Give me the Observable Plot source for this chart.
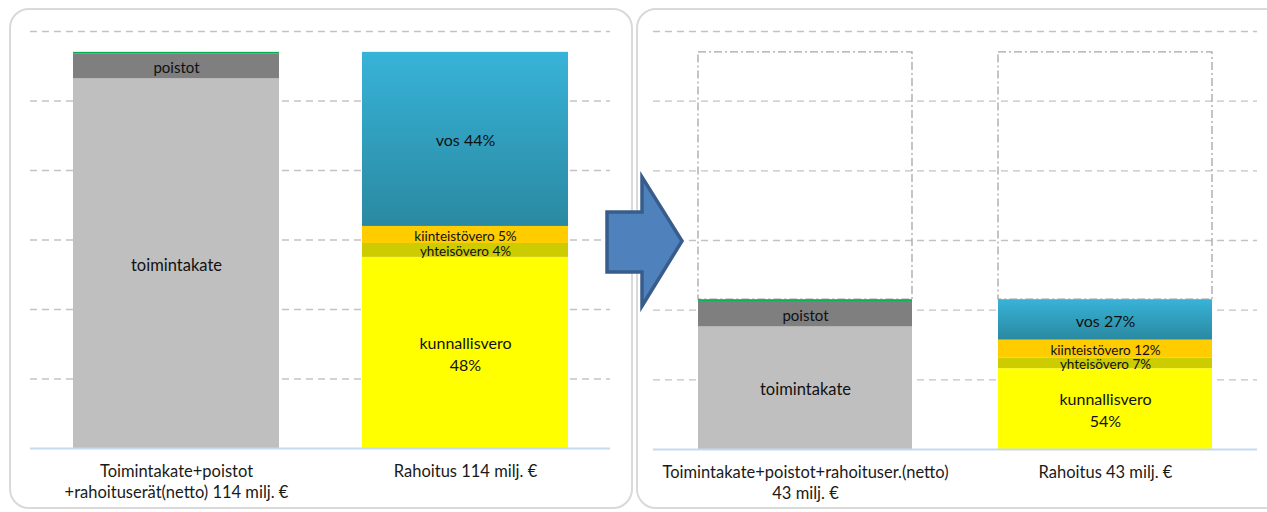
<!DOCTYPE html>
<html>
<head>
<meta charset="utf-8">
<script src="https://cdn.jsdelivr.net/npm/d3@7"></script>
<script src="https://cdn.jsdelivr.net/npm/@observablehq/plot@0.6"></script>
<style>
  html, body { margin: 0; padding: 0; background: #fff; overflow: hidden; }
  #wrap { position: relative; width: 1267px; height: 512px; overflow: hidden; font-family: Lato, "Liberation Sans", sans-serif; }
  .chart { position: absolute; top: 0; }
  .panel { position: absolute; border: 2.5px solid #d9d9d9; border-radius: 20px; box-sizing: border-box; pointer-events: none; }
  #p1 { left: 9px; top: 8px; width: 624px; height: 501px; }
  #p2 { left: 636px; top: 8px; width: 660px; height: 501px; }
  #arrow { position: absolute; left: 0; top: 0; pointer-events: none; }
</style>
</head>
<body>
<div id="wrap">
  <div id="c1" class="chart" style="left:0px"></div>
  <div id="c2" class="chart" style="left:635px"></div>
  <div id="p1" class="panel"></div>
  <div id="p2" class="panel"></div>
  <svg id="arrow" width="1267" height="512"></svg>
</div>
<script>
// ---- data ----
const leftCategories = ["Toimintakate+poistot\n+rahoituserät(netto) 114 milj. €", "Rahoitus 114 milj. €"];
const rightCategories = ["Toimintakate+poistot+rahoituser.(netto)\n43 milj. €", "Rahoitus 43 milj. €"];
const segments = ["toimintakate", "poistot", "rahoituserät", "kunnallisvero", "yhteisövero", "kiinteistövero", "vos"];
const segmentBar = [0, 0, 0, 1, 1, 1, 1];
const leftValues = [106.4, 7.1, 0.5, 55.0, 4.0, 4.9, 50.1];
const leftLabels = ["toimintakate", "poistot", "", "kunnallisvero\n48%", "yhteisövero 4%", "kiinteistövero 5%", "vos 44%"];
const rightValues = [35.2, 7.3, 0.5, 23.2, 3.0, 5.2, 11.6];
const rightLabels = ["toimintakate", "poistot", "", "kunnallisvero\n54%", "yhteisövero 7%", "kiinteistövero 12%", "vos 27%"];
const previousTotals = [114, 114];
const gridTicks = [20, 40, 60, 80, 100, 120];

// ---- styles ----
const segColors = {
  "toimintakate": "#bfbfbf",
  "poistot": "#7f7f7f",
  "rahoituserät": "#00b050",
  "kunnallisvero": "#ffff00",
  "yhteisövero": "#cccc00",
  "kiinteistövero": "#ffcc00",
  "vos": "GRADIENT"
};
const segFontSize = {
  "toimintakate": 16.5, "poistot": 15, "rahoituserät": 12, "kunnallisvero": 16,
  "yhteisövero": 13.5, "kiinteistövero": 13.5, "vos": 16
};

function makePanel(cfg) {
  const rows = segments.map((s, i) => ({ bar: cfg.cats[segmentBar[i]], seg: s, value: cfg.values[i], label: cfg.labels[i] }));
  const totals = cfg.cats.map((c, b) => d3.sum(segments.map((s, i) => segmentBar[i] === b ? cfg.values[i] : 0)));
  const ghostRows = cfg.ghost ? cfg.cats.map((c, i) => ({ bar: c, from: totals[i], to: previousTotals[i] })) : [];
  const range = segments.map(s => segColors[s] === "GRADIENT" ? `url(#${cfg.gradId})` : segColors[s]);
  const marks = [
    Plot.ruleY(gridTicks, { stroke: "#c3c3c3", strokeWidth: 1.3, strokeDasharray: "7,5" }),
  ];
  if (cfg.ghost) {
    marks.push(Plot.barY(ghostRows, { x: "bar", y1: "from", y2: "to", fill: "none", stroke: "#a6a6a6", strokeWidth: 1.3, strokeDasharray: "8,3,2,3" }));
  }
  marks.push(
    Plot.barY(rows, Plot.stackY({ x: "bar", y: "value", fill: "seg" })),
    Plot.text(rows, Plot.stackY({
      x: "bar", y: "value", text: "label",
      fontSize: d => segFontSize[d.seg], lineHeight: 1.375, fill: "#111"
    })),
    Plot.ruleY([0], { stroke: "#c6d9f1", strokeWidth: 2 }),
    Plot.text(cfg.cats, {
      x: d => d, text: d => d, frameAnchor: "bottom", lineAnchor: "top",
      dy: 14, fontSize: 16.5, lineHeight: 1.27, fill: "#1a1a1a"
    })
  );
  const chart = Plot.plot({
    width: cfg.width, height: 512,
    marginLeft: cfg.mL, marginRight: cfg.mR, marginTop: cfg.mT, marginBottom: cfg.mB,
    style: { background: "transparent", fontFamily: "Lato, 'Liberation Sans', sans-serif", overflow: "visible" },
    x: { domain: cfg.cats, paddingInner: cfg.pi, paddingOuter: cfg.po, axis: null },
    y: { domain: [0, 120], axis: null },
    color: { domain: segments, range },
    marks
  });
  const defs = d3.select(chart).insert("defs", ":first-child");
  const g = defs.append("linearGradient").attr("id", cfg.gradId).attr("x1", 0).attr("y1", 0).attr("x2", 0).attr("y2", 1);
  g.append("stop").attr("offset", "0%").attr("stop-color", "#37b3d8");
  g.append("stop").attr("offset", "100%").attr("stop-color", "#2a89a1");
  document.getElementById(cfg.el).appendChild(chart);
}

makePanel({ el: "c1", cats: leftCategories, values: leftValues, labels: leftLabels, ghost: false,
  width: 640, mL: 30, mR: 30, mT: 31, mB: 64, pi: 0.288, po: 0.146, gradId: "vosL" });
makePanel({ el: "c2", cats: rightCategories, values: rightValues, labels: rightLabels, ghost: true,
  width: 632, mL: 18, mR: 10, mT: 31, mB: 63, pi: 0.286, po: 0.148, gradId: "vosR" });

// decorative block arrow between the panels
d3.select("#arrow").append("path")
  .attr("d", "M607,212 L642,212 L642,177 L682,241 L642,306 L642,272 L607,272 Z")
  .attr("fill", "#4f81bd").attr("stroke", "#385d8a").attr("stroke-width", 3.5).attr("stroke-linejoin", "miter");
</script>
</body>
</html>
